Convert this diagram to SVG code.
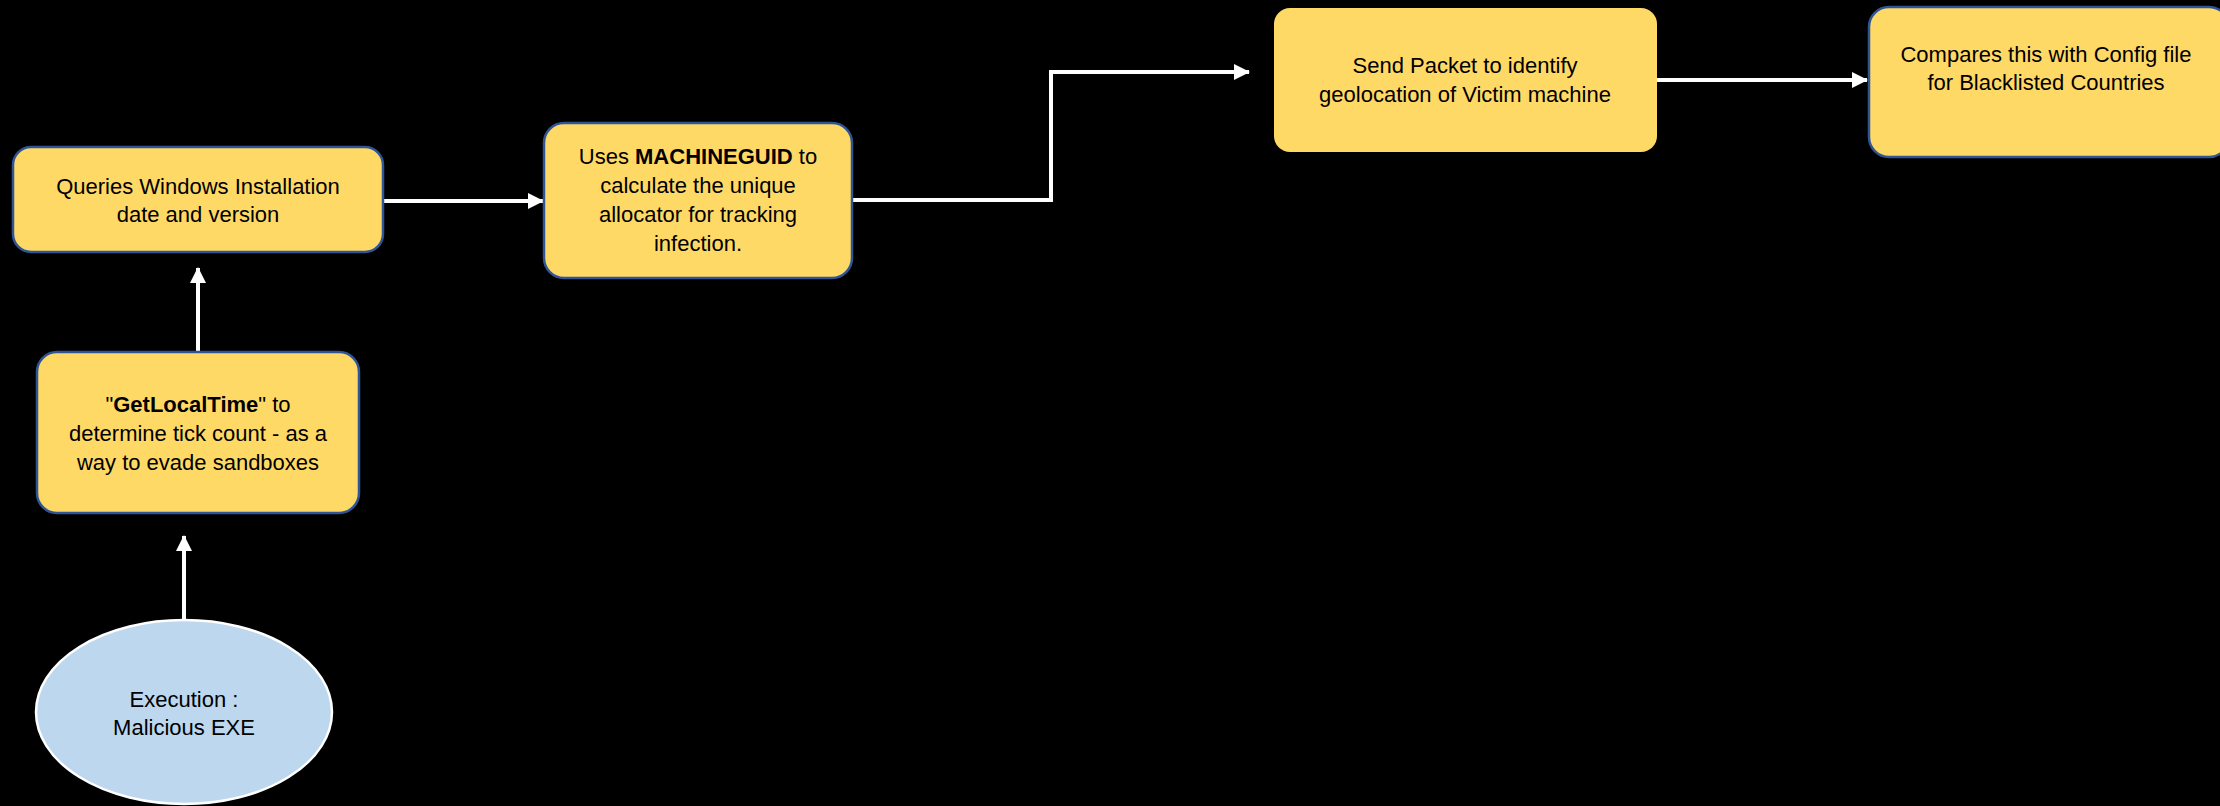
<svg xmlns="http://www.w3.org/2000/svg" width="2220" height="806" viewBox="0 0 2220 806">
<style>
.box{fill:#FFD966;stroke:#2F5597;stroke-width:2.5}
.boxn{fill:#FFD966;stroke:none}
.ell{fill:#BDD7EE;stroke:#FFFFFF;stroke-width:2.5}
text{font-family:"Liberation Sans",Arial,sans-serif;font-size:22px;fill:#000;text-anchor:middle}
.b{font-weight:bold}
.conn{fill:none;stroke:#FFFFFF;stroke-width:4}
</style>
<defs>
<marker id="ah" markerUnits="userSpaceOnUse" markerWidth="16" markerHeight="16" viewBox="0 0 16 16" refX="15" refY="8" orient="auto">
<path d="M0,0 L16,8 L0,16 Z" fill="#FFFFFF"/>
</marker>
</defs>
<rect width="2220" height="806" fill="#000000"/>
<g id="connectors">
<line class="conn" x1="184" y1="620" x2="184" y2="536" marker-end="url(#ah)"/>
<line class="conn" x1="198" y1="352" x2="198" y2="268" marker-end="url(#ah)"/>
<line class="conn" x1="383" y1="201" x2="543" y2="201" marker-end="url(#ah)"/>
<polyline class="conn" points="852,200 1051,200 1051,72 1249,72" marker-end="url(#ah)"/>
<line class="conn" x1="1657" y1="80" x2="1867" y2="80" marker-end="url(#ah)"/>
</g>
<g id="n_exec">
<ellipse class="ell" cx="184" cy="712" rx="148" ry="92"/>
<text x="184" y="707">Execution :</text>
<text x="184" y="735">Malicious EXE</text>
</g>
<g id="n_getlocaltime">
<rect class="box" x="37" y="352" width="322" height="161" rx="20"/>
<text x="198" y="412">"<tspan class="b">GetLocalTime</tspan>" to</text>
<text x="198" y="441">determine tick count - as a</text>
<text x="198" y="470">way to evade sandboxes</text>
</g>
<g id="n_queries">
<rect class="box" x="13" y="147" width="370" height="105" rx="18"/>
<text x="198" y="194">Queries Windows Installation</text>
<text x="198" y="222">date and version</text>
</g>
<g id="n_machineguid">
<rect class="box" x="544" y="123" width="308" height="155" rx="20"/>
<text x="698" y="164">Uses <tspan class="b">MACHINEGUID</tspan> to</text>
<text x="698" y="193">calculate the unique</text>
<text x="698" y="222">allocator for tracking</text>
<text x="698" y="251">infection.</text>
</g>
<g id="n_sendpacket">
<rect class="boxn" x="1274" y="8" width="383" height="144" rx="16"/>
<text x="1465" y="73">Send Packet to identify</text>
<text x="1465" y="102">geolocation of Victim machine</text>
</g>
<g id="n_compares">
<rect class="box" x="1869" y="7" width="360" height="150" rx="20"/>
<text x="2046" y="62">Compares this with Config file</text>
<text x="2046" y="90">for Blacklisted Countries</text>
</g>
</svg>
